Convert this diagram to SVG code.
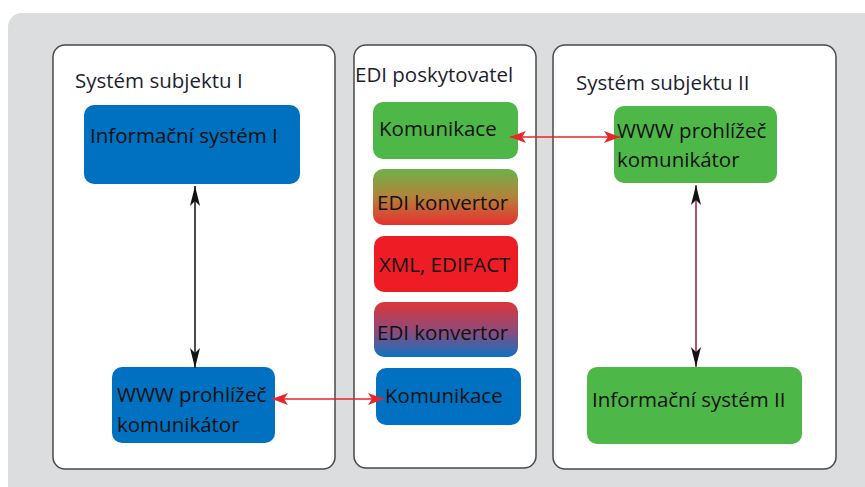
<svg xmlns="http://www.w3.org/2000/svg" width="865" height="487" viewBox="0 0 865 487">
<style>
.bg{fill:#dcdddf}
.panel{fill:#fff;stroke:#4a4a4a;stroke-width:1.5}
.title{font-family:"Open Sans","Noto Sans",sans-serif;font-size:20.5px;fill:#1e1e30}
.lbl{font-family:"Open Sans","Noto Sans",sans-serif;font-size:20.5px;fill:#111}
.blue{fill:#0070c0}
.green{fill:#4db848}
.red{fill:#ee1c25}
.cblack{stroke:#111;stroke-width:1.5;fill:none}
.cmaroon{stroke:#9b1b30;stroke-width:1.5;fill:none}
.cred{stroke:#e8252b;stroke-width:1.5;fill:none}
</style>
<defs>
<linearGradient id="gGR" x1="0" y1="0" x2="0" y2="1">
<stop offset="0" stop-color="#6bb24a"/>
<stop offset="0.5" stop-color="#b4823a"/>
<stop offset="1" stop-color="#e6302f"/>
</linearGradient>
<linearGradient id="gRB" x1="0" y1="0" x2="0" y2="1">
<stop offset="0" stop-color="#dc343a"/>
<stop offset="0.55" stop-color="#8a4c7e"/>
<stop offset="1" stop-color="#0c72c2"/>
</linearGradient>
<marker id="ab" viewBox="0 0 20 10" refX="20" refY="5" markerWidth="20" markerHeight="10" markerUnits="userSpaceOnUse" orient="auto-start-reverse">
<path d="M0,0 L20,5 L0,10 L5,5 Z" fill="#111"/>
</marker>
<marker id="ar" viewBox="0 0 16 12" refX="16" refY="6" markerWidth="16" markerHeight="12" markerUnits="userSpaceOnUse" orient="auto-start-reverse">
<path d="M0,0 L16,6 L0,12 L4,6 Z" fill="#e8252b"/>
</marker>
</defs>

<rect class="bg" x="8" y="13" width="880" height="490" rx="14"/>

<g id="panel-subjekt1">
<rect class="panel" x="53" y="45" width="282" height="424" rx="12"/>
<text class="title" x="75" y="88">Systém subjektu I</text>
</g>
<g id="panel-edi">
<rect class="panel" x="354" y="45" width="182" height="423" rx="12"/>
<text class="title" x="355" y="82">EDI poskytovatel</text>
</g>
<g id="panel-subjekt2">
<rect class="panel" x="553" y="45" width="283" height="424" rx="12"/>
<text class="title" x="576" y="90">Systém subjektu II</text>
</g>

<g id="is1">
<rect class="blue" x="84" y="105" width="216" height="79" rx="10"/>
<text class="lbl" x="90" y="143">Informační systém I</text>
</g>
<g id="www1">
<rect class="blue" x="112" y="367" width="163" height="76" rx="10"/>
<text class="lbl" x="117" y="402">WWW prohlížeč</text>
<text class="lbl" x="117" y="432">komunikátor</text>
</g>
<g id="kom-green">
<rect class="green" x="373" y="102" width="145" height="57" rx="10"/>
<text class="lbl" x="379" y="136">Komunikace</text>
</g>
<g id="conv1">
<rect fill="url(#gGR)" x="373" y="169" width="145" height="56" rx="10"/>
<text class="lbl" x="377" y="210">EDI konvertor</text>
</g>
<g id="xml">
<rect class="red" x="374" y="236" width="144" height="56" rx="10"/>
<text class="lbl" x="379" y="272">XML, EDIFACT</text>
</g>
<g id="conv2">
<rect fill="url(#gRB)" x="374" y="302" width="144" height="55" rx="10"/>
<text class="lbl" x="377" y="340">EDI konvertor</text>
</g>
<g id="kom-blue">
<rect class="blue" x="376" y="368" width="145" height="57" rx="10"/>
<text class="lbl" x="385" y="403">Komunikace</text>
</g>
<g id="www2">
<rect class="green" x="614" y="106" width="163" height="77" rx="10"/>
<text class="lbl" x="617" y="138">WWW prohlížeč</text>
<text class="lbl" x="617" y="167">komunikátor</text>
</g>
<g id="is2">
<rect class="green" x="587" y="367" width="215" height="77" rx="10"/>
<text class="lbl" x="592" y="407">Informační systém II</text>
</g>

<g id="connectors">
<line class="cblack" x1="195" y1="186" x2="195" y2="368" marker-start="url(#ab)" marker-end="url(#ab)"/>
<line class="cmaroon" x1="696" y1="185" x2="696" y2="367" marker-start="url(#ab)" marker-end="url(#ab)"/>
<line class="cred" x1="510" y1="137" x2="620" y2="137" marker-start="url(#ar)" marker-end="url(#ar)"/>
<line class="cred" x1="272" y1="399" x2="384" y2="399" marker-start="url(#ar)" marker-end="url(#ar)"/>
</g>
</svg>
